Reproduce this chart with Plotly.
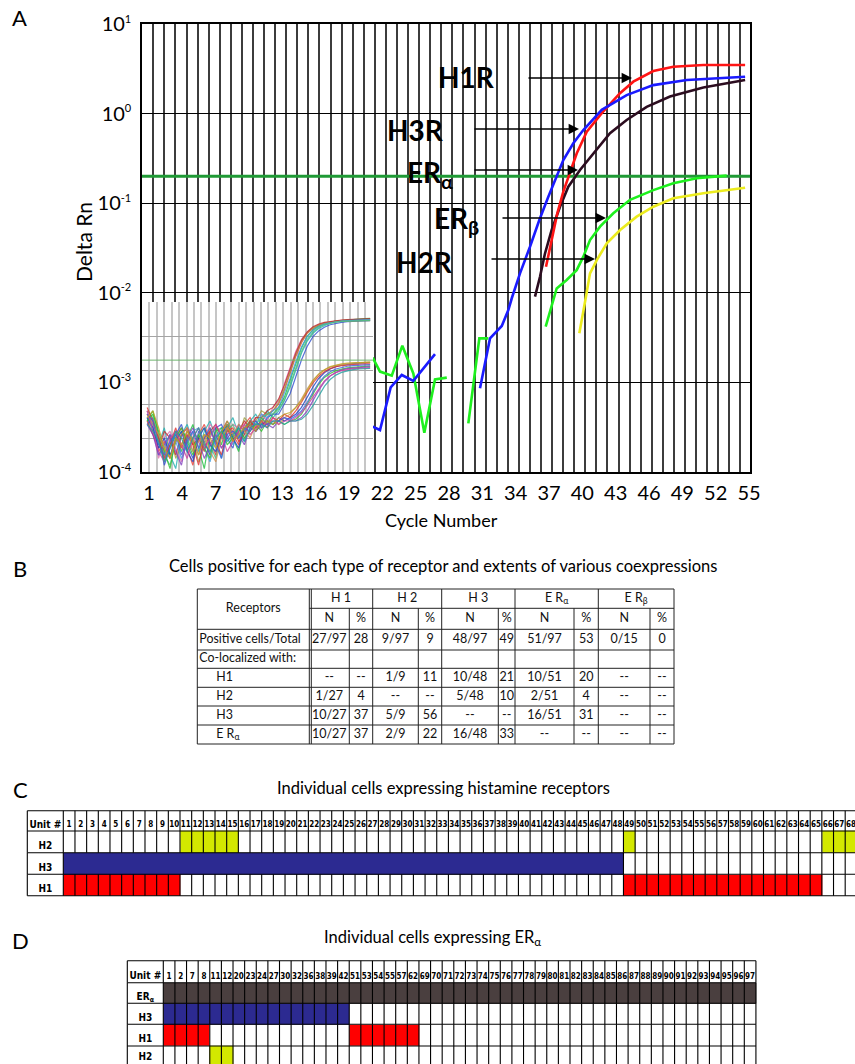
import plotly.graph_objects as go

W, H = 855, 1064


def px(x):
    return x / W


def py(y):
    return 1 - y / H


FONT = "Lato, 'Open Sans', sans-serif"
NARROW = "'Liberation Sans Narrow', 'DejaVu Sans Condensed', 'Arial Narrow', Lato, sans-serif"

# ------------------------------------------------------------------ Panel A data
x_tick_vals = [1, 4, 7, 10, 13, 16, 19, 22, 25, 28, 31, 34, 37, 40, 43, 46, 49, 52, 55]
y_tick_vals = [1e-4, 1e-3, 1e-2, 1e-1, 1e0, 1e1]
y_tick_exps = ["-4", "-3", "-2", "-1", "0", "1"]
y_tick_text = ["10<sup><span style='font-size:11px'>%s</span></sup>" % e for e in y_tick_exps]
x_range = [0.37, 55.09]
threshold_rn = 0.2

h1r_cycle = [36.73, 37.24, 37.75, 38.29, 38.80, 39.50, 40.40, 41.75, 43.39, 44.59, 46.39, 48.19, 50.89, 54.65]
h1r_rn = [0.0195, 0.0388, 0.0771, 0.135, 0.203, 0.361, 0.628, 1.01, 1.69, 2.27, 2.99, 3.34, 3.48, 3.48]

h3r_cycle = [21.13, 21.79, 22.75, 23.75, 24.79, 26.74, None,
             30.79, 31.69, 32.75, 33.34, 33.65, 34.39, 35.29, 36.13, 36.94, 37.54, 38.29,
             39.19, 40.09, 41.75, 43.99, 46.39, 49.40, 54.65]
h3r_rn = [3.21e-4, 2.94e-4, 8.81e-4, 1.21e-3, 1.04e-3, 2.07e-3, None,
          8.59e-4, 3.10e-3, 4.26e-3, 6.43e-3, 8.69e-3, 0.0165, 0.0327, 0.0649, 0.118, 0.182, 0.303,
          0.467, 0.656, 1.10, 1.61, 2.08, 2.37, 2.58]

era_cycle = [35.74, 36.19, 36.64, 37.24, 37.99, 38.74, 39.79, 40.99, 42.49, 43.99, 45.79, 47.89, 50.89, 54.65]
era_rn = [9.06e-3, 0.0151, 0.0275, 0.0502, 0.0914, 0.153, 0.235, 0.361, 0.603, 0.849, 1.19, 1.55, 1.96, 2.37]

erb_cycle = [21.13, 21.79, 22.85, 23.80, 24.79, 25.78, 26.74, 27.80, None,
             29.74, 30.73, 31.54, None,
             36.70, 37.69, 38.59, 39.49, 40.09, 40.69, 41.59, 42.79, 44.29, 46.39, 48.19, 50.29, 52.99]
erb_rn = [1.89e-3, 1.32e-3, 1.19e-3, 2.57e-3, 1.26e-3, 2.75e-4, 1.08e-3, 1.13e-3, None,
          3.49e-4, 3.10e-3, 3.10e-3, None,
          4.2e-3, 0.0112, 0.0139, 0.0179, 0.0253, 0.0388, 0.0547, 0.0771, 0.109, 0.140, 0.167, 0.190, 0.203]

h2r_cycle = [39.73, 40.15, 40.30, 40.69, 41.30, 42.20, 43.40, 44.89, 46.39, 48.19, 50.89, 54.65]
h2r_rn = [3.53e-3, 6.43e-3, 8.69e-3, 0.0165, 0.0232, 0.0356, 0.0502, 0.0708, 0.0914, 0.1135, 0.129, 0.149]

# inset (raw amplification plot of all wells), log10 Delta Rn per cycle
inset_cycles = list(range(1, 41))
inset_x_range = [0.1, 40.5]
inset_threshold_log = -0.71
inset_logs = [
    ("#e8403a", [-2.3, -2.6, -3.4, -3.1, -3.6, -3.0, -2.7, -3.3, -3.8, -2.9, -2.6, -3.1, -3.5, -2.8, -2.5, -2.9, -3.2, -2.6, -2.4, -2.7,
                 -2.5, -2.3, -2.2, -2.0, -1.6, -1.1, -0.6, -0.2, 0.08, 0.22, 0.31, 0.37, 0.41, 0.44, 0.46, 0.47, 0.48, 0.49, 0.49, 0.5]),
    ("#20c040", [-2.5, -2.2, -2.9, -3.7, -3.2, -2.8, -3.4, -3.0, -2.6, -3.3, -3.9, -2.9, -2.7, -3.2, -2.6, -3.0, -3.4, -2.7, -2.5, -2.8,
                 -2.4, -2.6, -2.3, -2.1, -1.8, -1.3, -0.8, -0.35, 0.0, 0.18, 0.29, 0.36, 0.41, 0.44, 0.46, 0.48, 0.49, 0.5, 0.51, 0.52]),
    ("#20b0b0", [-2.4, -2.8, -3.2, -2.7, -3.5, -3.9, -2.9, -2.6, -3.1, -3.4, -2.8, -2.5, -3.0, -3.6, -2.7, -2.4, -2.9, -3.1, -2.5, -2.3,
                 -2.6, -2.2, -2.4, -2.2, -1.9, -1.5, -1.0, -0.5, -0.15, 0.08, 0.22, 0.31, 0.38, 0.42, 0.45, 0.47, 0.48, 0.49, 0.5, 0.5]),
    ("#e070b0", [-2.2, -2.7, -3.6, -3.0, -2.8, -3.3, -3.7, -2.7, -2.9, -3.5, -3.0, -2.6, -2.8, -3.3, -2.9, -2.6, -2.7, -3.0, -2.8, -2.4,
                 -2.3, -2.5, -2.1, -1.9, -1.4, -0.9, -0.45, -0.1, 0.12, 0.25, 0.33, 0.38, 0.41, 0.43, 0.44, 0.45, 0.46, 0.46, 0.47, 0.47]),
    ("#3050d0", [-2.6, -2.4, -3.0, -3.8, -3.3, -2.9, -2.6, -3.2, -3.6, -2.8, -3.1, -3.5, -2.7, -2.6, -3.0, -3.3, -2.6, -2.8, -2.6, -2.5,
                 -2.7, -2.4, -2.3, -2.3, -2.0, -1.7, -1.2, -0.7, -0.3, -0.02, 0.15, 0.26, 0.33, 0.37, 0.4, 0.42, 0.43, 0.44, 0.45, 0.45]),
    ("#a0a040", [-2.3, -2.5, -3.1, -3.4, -2.9, -3.6, -3.2, -2.8, -3.0, -3.7, -3.2, -2.7, -3.1, -2.9, -2.5, -2.8, -3.0, -2.4, -2.6, -2.5,
                 -2.2, -2.3, -2.2, -1.95, -1.55, -1.05, -0.55, -0.15, 0.1, 0.24, 0.32, 0.37, 0.4, 0.42, 0.43, 0.44, 0.44, 0.45, 0.45, 0.45]),
    ("#c03030", [-2.5, -2.9, -3.3, -2.8, -3.0, -3.5, -2.9, -2.7, -3.2, -3.0, -3.4, -2.8, -2.6, -3.0, -2.7, -3.1, -2.8, -2.5, -2.7, -2.4,
                 -2.4, -2.2, -2.1, -1.85, -1.45, -0.95, -0.5, -0.12, 0.12, 0.27, 0.35, 0.4, 0.43, 0.45, 0.47, 0.48, 0.49, 0.5, 0.5, 0.51]),
    ("#40a0e0", [-2.4, -2.6, -3.5, -3.3, -2.9, -3.1, -3.6, -3.2, -2.8, -2.7, -3.3, -3.7, -3.0, -2.7, -2.9, -3.2, -2.7, -2.9, -2.5, -2.6,
                 -2.3, -2.4, -2.2, -2.1, -1.7, -1.25, -0.75, -0.32, -0.02, 0.17, 0.28, 0.35, 0.39, 0.42, 0.44, 0.45, 0.46, 0.47, 0.47, 0.48]),
    ("#50c080", [-2.2, -2.4, -3.0, -3.5, -3.8, -3.1, -2.8, -3.0, -3.4, -2.9, -2.7, -3.2, -3.6, -2.9, -2.8, -2.6, -3.0, -2.8, -2.5, -2.6,
                 -2.4, -2.3, -2.3, -2.15, -1.9, -1.45, -0.95, -0.45, -0.1, 0.12, 0.25, 0.33, 0.38, 0.41, 0.43, 0.44, 0.45, 0.46, 0.46, 0.46]),
    ("#2040c0", [-2.4, -2.7, -3.3, -3.0, -3.5, -3.1, -2.8, -3.4, -3.7, -3.0, -2.7, -3.2, -3.4, -2.9, -2.6, -3.0, -3.3, -2.7, -2.6, -2.8,
                 -2.6, -2.5, -2.6, -2.4, -2.5, -2.4, -2.3, -2.1, -1.8, -1.5, -1.25, -1.08, -0.97, -0.9, -0.86, -0.83, -0.81, -0.8, -0.79, -0.78]),
    ("#e03030", [-2.1, -2.5, -3.0, -3.6, -3.2, -2.7, -3.3, -2.9, -3.2, -3.8, -3.0, -2.8, -3.1, -3.5, -2.8, -2.7, -3.1, -2.9, -2.5, -2.7,
                 -2.5, -2.7, -2.4, -2.5, -2.3, -2.4, -2.2, -1.95, -1.65, -1.38, -1.18, -1.05, -0.96, -0.9, -0.87, -0.85, -0.84, -0.83, -0.82, -0.82]),
    ("#30c030", [-2.5, -2.3, -2.8, -3.4, -3.9, -3.0, -2.7, -3.1, -3.5, -2.9, -3.3, -3.6, -2.8, -2.7, -3.2, -3.0, -2.7, -3.0, -2.8, -2.6,
                 -2.8, -2.5, -2.6, -2.5, -2.6, -2.5, -2.45, -2.3, -2.0, -1.7, -1.42, -1.22, -1.1, -1.02, -0.97, -0.94, -0.92, -0.9, -0.89, -0.88]),
    ("#8040c0", [-2.6, -2.9, -3.5, -3.2, -2.9, -3.4, -3.8, -3.0, -2.7, -3.1, -3.6, -3.2, -2.9, -3.3, -3.0, -2.8, -2.9, -3.2, -2.7, -2.8,
                 -2.6, -2.6, -2.7, -2.5, -2.4, -2.5, -2.5, -2.4, -2.2, -1.9, -1.6, -1.35, -1.18, -1.07, -1.0, -0.96, -0.94, -0.92, -0.91, -0.9]),
    ("#d09050", [-2.3, -2.6, -2.9, -3.3, -3.6, -3.1, -2.9, -2.7, -3.4, -3.1, -2.9, -3.4, -3.7, -3.0, -2.7, -2.9, -2.6, -2.8, -3.0, -2.6,
                 -2.7, -2.5, -2.5, -2.6, -2.4, -2.3, -2.1, -1.85, -1.55, -1.3, -1.12, -1.0, -0.92, -0.87, -0.84, -0.82, -0.8, -0.79, -0.78, -0.77]),
    ("#d040a0", [-2.2, -2.8, -3.4, -3.7, -3.0, -2.8, -3.2, -3.6, -3.0, -2.7, -3.3, -3.0, -2.6, -2.9, -3.4, -3.1, -2.8, -2.6, -2.9, -2.7,
                 -2.5, -2.6, -2.4, -2.6, -2.5, -2.5, -2.4, -2.25, -2.05, -1.8, -1.55, -1.32, -1.17, -1.08, -1.02, -0.98, -0.96, -0.95, -0.94, -0.93]),
    ("#4060e0", [-2.3, -2.5, -3.2, -3.5, -3.1, -2.9, -3.5, -3.1, -2.8, -3.3, -3.0, -2.7, -3.2, -3.6, -2.9, -2.8, -3.0, -2.7, -2.8, -2.5,
                 -2.7, -2.6, -2.5, -2.5, -2.4, -2.45, -2.35, -2.2, -1.95, -1.65, -1.38, -1.18, -1.05, -0.97, -0.92, -0.89, -0.87, -0.86, -0.85, -0.84]),
    ("#c0a020", [-2.4, -2.2, -2.7, -3.3, -3.6, -3.0, -3.2, -2.8, -3.1, -3.5, -2.9, -3.0, -3.3, -2.8, -2.6, -3.1, -2.9, -2.7, -2.6, -2.8,
                 -2.5, -2.5, -2.6, -2.4, -2.3, -2.25, -2.1, -1.9, -1.6, -1.32, -1.12, -0.99, -0.9, -0.85, -0.82, -0.8, -0.79, -0.78, -0.77, -0.77]),
    ("#20a0a0", [-2.6, -2.8, -3.1, -3.7, -3.3, -2.8, -3.0, -3.4, -3.0, -2.7, -3.2, -3.4, -3.0, -2.8, -3.1, -2.9, -2.7, -3.1, -2.7, -2.6,
                 -2.6, -2.7, -2.5, -2.5, -2.6, -2.5, -2.5, -2.45, -2.3, -2.05, -1.75, -1.48, -1.28, -1.15, -1.07, -1.02, -0.99, -0.97, -0.96, -0.95]),
]

# ------------------------------------------------------------------ Panel B data
b_groups = ["H 1", "H 2", "H 3", "E R<sub>α</sub>", "E R<sub>β</sub>"]
b_sub_headers = ["N", "%"]
b_row_labels = ["Positive cells/Total", "Co-localized with:", "H1", "H2", "H3", "E R<sub>α</sub>"]
b_rows = [
    ["27/97", "28", "9/97", "9", "48/97", "49", "51/97", "53", "0/15", "0"],
    ["", "", "", "", "", "", "", "", "", ""],
    ["--", "--", "1/9", "11", "10/48", "21", "10/51", "20", "--", "--"],
    ["1/27", "4", "--", "--", "5/48", "10", "2/51", "4", "--", "--"],
    ["10/27", "37", "5/9", "56", "--", "--", "16/51", "31", "--", "--"],
    ["10/27", "37", "2/9", "22", "16/48", "33", "--", "--", "--", "--"],
]

# ------------------------------------------------------------------ Panels C / D data
c_units = list(range(1, 69))
h1_units = list(range(1, 11)) + list(range(49, 66))
h2_units = [11, 12, 13, 14, 15, 49, 66, 67, 68]
h3_units = list(range(1, 49))
era_units = [1, 2, 7, 8, 11, 12, 20, 23, 24, 27, 30, 32, 36, 38, 39, 42,
             51, 53, 54, 55, 57, 62] + list(range(69, 98))

COL = {"H2": "#d3e800", "H3": "#2c2a91", "H1": "#ff0000", "ERa": "#4a3f3f"}
CODE = {"H2": 1, "H3": 2, "H1": 3, "ERa": 4}
colorscale = [[0.0, "white"], [0.125, "white"],
              [0.125, COL["H2"]], [0.375, COL["H2"]],
              [0.375, COL["H3"]], [0.625, COL["H3"]],
              [0.625, COL["H1"]], [0.875, COL["H1"]],
              [0.875, COL["ERa"]], [1.0, COL["ERa"]]]

fig = go.Figure()

# ================================================================== Panel A
fig.add_trace(go.Scatter(x=x_range, y=[threshold_rn, threshold_rn], mode="lines",
                         line=dict(color="#1f9a35", width=3), hoverinfo="skip", xaxis="x", yaxis="y"))
for xs, ys, col in [(h2r_cycle, h2r_rn, "#ecec1e"), (erb_cycle, erb_rn, "#1ef01e"),
                    (era_cycle, era_rn, "#2b0c1f"), (h1r_cycle, h1r_rn, "#ff1414"),
                    (h3r_cycle, h3r_rn, "#1a1aff")]:
    fig.add_trace(go.Scatter(x=xs, y=ys, mode="lines", connectgaps=False,
                             line=dict(color=col, width=2.6), hoverinfo="skip",
                             xaxis="x", yaxis="y"))

# inset
for col, logs in inset_logs:
    fig.add_trace(go.Scatter(x=inset_cycles[:len(logs)], y=[10 ** v for v in logs], mode="lines",
                             line=dict(color=col, width=1.2), opacity=0.8, hoverinfo="skip",
                             xaxis="x2", yaxis="y2"))
fig.add_trace(go.Scatter(x=inset_x_range, y=[10 ** inset_threshold_log] * 2, mode="lines",
                         line=dict(color="#6fb56f", width=1), hoverinfo="skip", xaxis="x2", yaxis="y2"))

# ================================================================== Panel B table
b_col_edges = [197.3, 309.3, 349.3, 372.7, 418.3, 441.7, 498.3, 515.0, 574.0, 598.3, 650.0, 674.0]
b_row_edges = [589.0, 608.3, 629.3, 650.0, 668.3, 687.3, 706.0, 725.0, 744.0]

lx, ly = [], []
for i, yv in enumerate(b_row_edges):
    x0 = b_col_edges[1] if i == 1 else b_col_edges[0]
    lx += [x0, b_col_edges[-1], None]
    ly += [yv, yv, None]
for j, xv in enumerate(b_col_edges):
    y0 = b_row_edges[1] if j in (2, 4, 6, 8, 10) else b_row_edges[0]
    lx += [xv, xv, None]
    ly += [y0, b_row_edges[-1], None]
lx += [b_col_edges[1] + 2, b_col_edges[1] + 2, None]
ly += [b_row_edges[0], b_row_edges[-1], None]
fig.add_trace(go.Scatter(x=lx, y=ly, mode="lines", line=dict(color="#222", width=1),
                         hoverinfo="skip", xaxis="x3", yaxis="y3"))

tx, ty, tt = [], [], []
tx.append((b_col_edges[0] + b_col_edges[1]) / 2); ty.append((b_row_edges[0] + b_row_edges[2]) / 2); tt.append("Receptors")
for g, name in enumerate(b_groups):
    tx.append((b_col_edges[1 + 2 * g] + b_col_edges[3 + 2 * g]) / 2)
    ty.append((b_row_edges[0] + b_row_edges[1]) / 2)
    tt.append(name)
    for s in range(2):
        tx.append((b_col_edges[1 + 2 * g + s] + b_col_edges[2 + 2 * g + s]) / 2)
        ty.append((b_row_edges[1] + b_row_edges[2]) / 2)
        tt.append(b_sub_headers[s])
for k, row in enumerate(b_rows):
    for c, val in enumerate(row):
        if val == "":
            continue
        tx.append((b_col_edges[1 + c] + b_col_edges[2 + c]) / 2)
        ty.append((b_row_edges[2 + k] + b_row_edges[3 + k]) / 2)
        tt.append(val)
fig.add_trace(go.Scatter(x=tx, y=ty, text=tt, mode="text", textposition="middle center",
                         textfont=dict(family=FONT, size=12.5, color="#111"), hoverinfo="skip",
                         xaxis="x3", yaxis="y3"))
rx = [b_col_edges[0] + 2 if k < 2 else b_col_edges[0] + 19 for k in range(len(b_row_labels))]
ry = [(b_row_edges[2 + k] + b_row_edges[3 + k]) / 2 for k in range(len(b_row_labels))]
fig.add_trace(go.Scatter(x=rx, y=ry, text=b_row_labels, mode="text", textposition="middle right",
                         textfont=dict(family=FONT, size=12.4, color="#111"), hoverinfo="skip",
                         xaxis="x3", yaxis="y3"))


# ================================================================== Panels C and D
def grid_lines(x_edges, y_edges, merge):
    xs, ys = [], []
    for yv in y_edges:
        xs += [x_edges[0], x_edges[-1], None]
        ys += [yv, yv, None]
    for r in range(len(y_edges) - 1):
        for j, xv in enumerate(x_edges):
            if 0 < j < len(x_edges) - 1 and merge[r][j - 1] and merge[r][j]:
                continue
            xs += [xv, xv, None]
            ys += [y_edges[r], y_edges[r + 1], None]
    return xs, ys


def cell_table(units, rows, unit_w, label_w, left_px, row_edges, bottom_cut, xa, ya, merge_rows, right_px):
    x_edges = [-label_w / unit_w] + list(range(0, len(units) + 1))
    z = [[0] * (len(units) + 1)]
    merge = [[False] * (len(units) + 1)]
    for name, key, members in rows:
        z.append([0] + [CODE[key] if u in members else 0 for u in units])
        merge.append([False] + [(key in merge_rows and u in members) for u in units])
    fig.add_trace(go.Heatmap(z=z, x=x_edges, y=row_edges, colorscale=colorscale, zmin=0, zmax=4,
                             showscale=False, hoverinfo="skip", xaxis=xa, yaxis=ya))
    gx, gy = grid_lines(x_edges, row_edges, merge)
    fig.add_trace(go.Scatter(x=gx, y=gy, mode="lines", line=dict(color="black", width=1.1),
                             hoverinfo="skip", xaxis=xa, yaxis=ya))
    ty_ = [min(row_edges[r] + 0.72 * (row_edges[r + 1] - row_edges[r]), bottom_cut - 6)
           for r in range(len(row_edges) - 1)]
    fig.add_trace(go.Scatter(x=[u - 0.5 for u in range(1, len(units) + 1)], y=[ty_[0]] * len(units),
                             text=[str(u) for u in units], mode="text", textposition="middle center",
                             textfont=dict(family=NARROW, size=8, color="black", weight="bold"),
                             hoverinfo="skip", xaxis=xa, yaxis=ya))
    fig.add_trace(go.Scatter(x=[-label_w / unit_w / 2] * len(ty_), y=ty_,
                             text=["Unit #"] + [r[0] for r in rows], mode="text", textposition="middle center",
                             textfont=dict(family=NARROW, size=10, color="black", weight="bold"),
                             hoverinfo="skip", xaxis=xa, yaxis=ya))
    x0 = -(label_w + 2) / unit_w
    x1 = x0 + (right_px - (left_px - 2)) / unit_w
    return dict(x=dict(domain=[px(left_px - 2), px(right_px)], range=[x0, x1]),
                y=dict(domain=[py(bottom_cut), py(row_edges[0] - 2)], range=[bottom_cut, row_edges[0] - 2]))


c_ax = cell_table(c_units,
                  [("H2", "H2", h2_units), ("H3", "H3", h3_units), ("H1", "H1", h1_units)],
                  11.67, 36.0, 27.3, [810.7, 831.0, 852.7, 874.3, 895.7], 897.7,
                  "x4", "y4", {"H3"}, 855.0)
d_ax = cell_table(era_units,
                  [("ER<sub>α</sub>", "ERa", era_units), ("H3", "H3", h3_units),
                   ("H1", "H1", h1_units), ("H2", "H2", h2_units)],
                  11.62, 36.0, 127.3, [960.7, 982.7, 1003.3, 1024.3, 1046.0, 1067.5], 1064.0,
                  "x5", "y5", set(), 758.0)

# ================================================================== layout
hidden = dict(visible=False, showgrid=False, zeroline=False, fixedrange=True, automargin=False)
layout = dict(
    width=W, height=H, margin=dict(l=0, r=0, t=0, b=0, pad=0, autoexpand=False),
    paper_bgcolor="white", plot_bgcolor="white", showlegend=False,
    font=dict(family=FONT, color="black"),
    xaxis=dict(domain=[px(142), px(750)], range=x_range, anchor="y", automargin=False,
               tickmode="array", tickvals=x_tick_vals, ticks="", showgrid=False, zeroline=False,
               tickfont=dict(size=20, family=FONT), ticklabelstandoff=2,
               showline=True, linecolor="black", linewidth=2, mirror=True,
               minor=dict(tickmode="linear", tick0=0.39, dtick=0.997, showgrid=True,
                          gridcolor="#3c3c3c", gridwidth=1.7, ticks="")),
    yaxis=dict(domain=[py(472), py(24)], type="log", range=[-4, 1], anchor="x", automargin=False,
               tickmode="array", tickvals=y_tick_vals, ticktext=y_tick_text, ticks="",
               showgrid=True, gridcolor="black", gridwidth=1.2, zeroline=False,
               tickfont=dict(size=20, family=FONT), ticklabelstandoff=5,
               showline=True, linecolor="black", linewidth=1.5, mirror=True),
    xaxis2=dict(domain=[px(142), px(373)], range=inset_x_range, anchor="y2", automargin=False,
                showticklabels=False, ticks="", showgrid=True, tick0=0.1, dtick=1.3,
                gridcolor="#c6c6c6", gridwidth=1.6, zeroline=False,
                showline=True, linecolor="black", linewidth=2),
    yaxis2=dict(domain=[py(472), py(302)], type="log", range=[-4, 1], anchor="x2", automargin=False,
                tickmode="array", tickvals=[1e-3, 1e-2, 1e-1, 1e0], showticklabels=False, ticks="",
                showgrid=True, gridcolor="#a4a4a4", gridwidth=1, zeroline=False,
                showline=True, linecolor="black", linewidth=1.5),
    xaxis3=dict(hidden, domain=[px(188), px(684)], range=[188, 684], anchor="y3"),
    yaxis3=dict(hidden, domain=[py(750), py(583)], range=[750, 583], anchor="x3"),
    xaxis4=dict(hidden, **c_ax["x"], anchor="y4"),
    yaxis4=dict(hidden, **c_ax["y"], anchor="x4"),
    xaxis5=dict(hidden, **d_ax["x"], anchor="y5"),
    yaxis5=dict(hidden, **d_ax["y"], anchor="x5"),
)
fig.update_layout(**layout)

# white background for the inset (covers main grid underneath)
fig.add_shape(type="rect", xref="x2", yref="y2", x0=inset_x_range[0], x1=inset_x_range[1],
              y0=-4, y1=1, fillcolor="white", line=dict(width=0), layer="below")

ann = []


def text(x, y, s, size, bold=False, angle=0, family=FONT):
    ann.append(dict(x=px(x), y=py(y), xref="paper", yref="paper", text=s, showarrow=False,
                    xanchor="center", yanchor="middle", textangle=angle,
                    font=dict(size=size, family=family, color="black", weight="bold" if bold else "normal")))


def arrow(x_tail, x_head, y):
    ann.append(dict(x=px(x_head), y=py(y), xref="paper", yref="paper", text="", showarrow=True,
                    ax=x_tail - x_head, ay=0, arrowhead=2, arrowsize=1.3, arrowwidth=1.6, arrowcolor="black"))


text(19, 18, "A", 22)
text(83, 242, "Delta Rn", 21, angle=-90)
text(441, 520, "Cycle Number", 18)
text(467, 77, "H1R", 28, bold=True)
text(415, 130, "H3R", 28, bold=True)
text(430, 174, "ER<sub>α</sub>", 28, bold=True)
text(457, 220, "ER<sub>β</sub>", 28, bold=True)
text(424, 262, "H2R", 28, bold=True)
arrow(527, 632, 78)
arrow(473, 579, 129)
arrow(473, 578, 170)
arrow(501, 606, 218)
arrow(490, 595, 259)

text(20, 568, "B", 22)
text(443, 566, "Cells positive for each type of receptor and extents of various coexpressions", 16.5)
text(20, 789, "C", 22)
text(443, 788, "Individual cells expressing histamine receptors", 16.5)
text(20, 940, "D", 22)
text(432, 937, "Individual cells expressing ER<sub>α</sub>", 16.5)

fig.update_layout(annotations=ann)
fig.write_html("out.html", config={"displayModeBar": False},
               post_script="document.body.style.margin='0px';document.body.style.overflow='hidden';")
